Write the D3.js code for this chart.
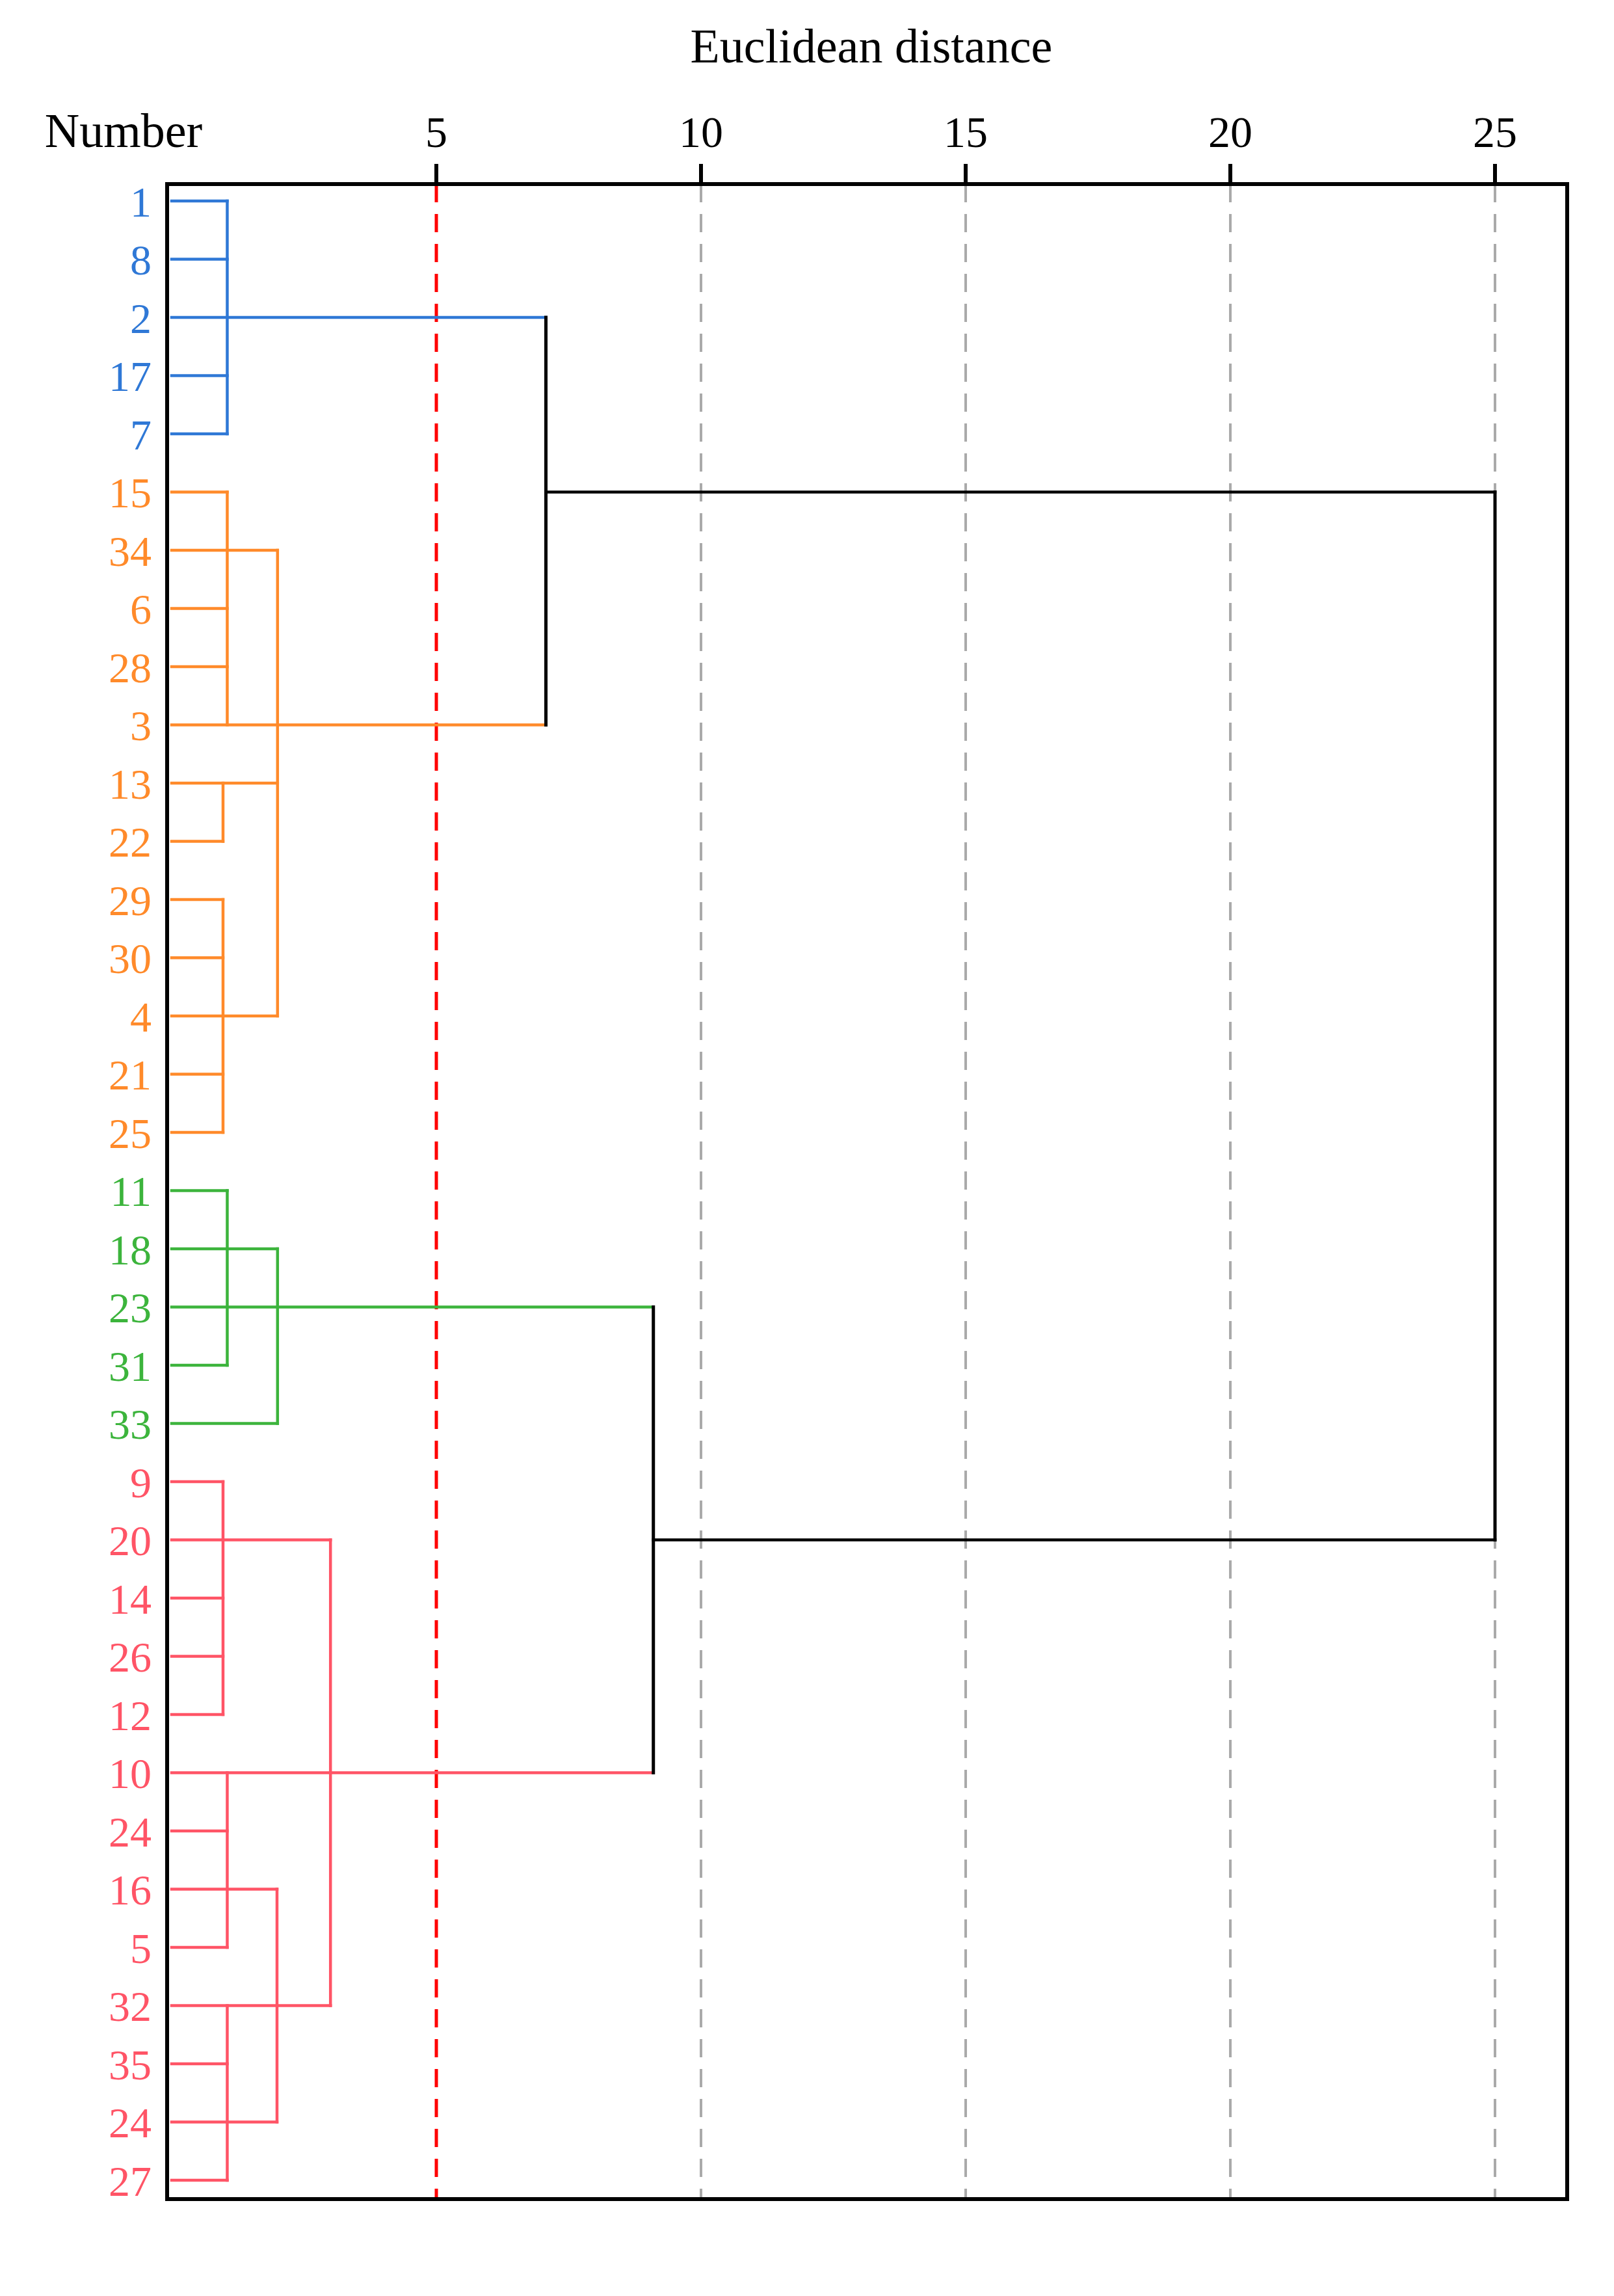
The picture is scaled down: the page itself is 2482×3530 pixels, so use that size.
<!DOCTYPE html>
<html><head><meta charset="utf-8">
<script src="https://cdn.jsdelivr.net/npm/d3@7"></script>
<style>body{margin:0;background:#fff}</style>
</head><body><div id="chart"></div>
<script>
const W = 2482, H = 3530;
const plotLeft = 257, plotRight = 2410, plotTop = 283, plotBottom = 3381;

// leaf labels top to bottom, with their cluster
const leaves = ["1","8","2","17","7","15","34","6","28","3","13","22","29","30","4","21","25",
  "11","18","23","31","33","9","20","14","26","12","10","24","16","5","32","35","24","27"];
const leafGroup = [0,0,0,0,0, 1,1,1,1,1,1,1,1,1,1,1,1, 2,2,2,2,2, 3,3,3,3,3,3,3,3,3,3,3,3,3];
const colors = ["#2f78d6", "#ff8a2a", "#3cb43c", "#ff5466", "#000"];
const ticks = [5, 10, 15, 20, 25];
const cutoff = 5;

// horizontal links: [row, from distance, to distance, colour group]
const hLinks = [
  [0,0,1.05,0],[1,0,1.05,0],[2,0,7.07,0],[3,0,1.05,0],[4,0,1.05,0],
  [5,0,1.05,1],[6,0,2.0,1],[7,0,1.05,1],[8,0,1.05,1],[9,0,7.07,1],
  [10,0,2.0,1],[11,0,0.97,1],[12,0,0.97,1],[13,0,0.97,1],[14,0,2.0,1],[15,0,0.97,1],[16,0,0.97,1],
  [17,0,1.05,2],[18,0,2.0,2],[19,0,9.1,2],[20,0,1.05,2],[21,0,2.0,2],
  [22,0,0.97,3],[23,0,3.0,3],[24,0,0.97,3],[25,0,0.97,3],[26,0,0.97,3],
  [27,0,9.1,3],[28,0,1.05,3],[29,0,1.99,3],[30,0,1.05,3],
  [31,0,3.0,3],[32,0,1.05,3],[33,0,1.99,3],[34,0,1.05,3],
  [5,7.07,25,4],[23,9.1,25,4]
];
// vertical links: [distance, from row, to row, colour group]
const vLinks = [
  [1.05,0,4,0],
  [1.05,5,9,1],[0.97,10,11,1],[0.97,12,16,1],[2.0,6,14,1],
  [1.05,17,20,2],[2.0,18,21,2],
  [0.97,22,26,3],[1.05,27,30,3],[1.05,31,34,3],[1.99,29,33,3],[3.0,23,31,3],
  [7.07,2,9,4],[25,5,23,4],[9.1,19,27,4]
];

const x = d3.scaleLinear().domain([0, 25]).range([264, 2299]);
const y = d3.scalePoint().domain(d3.range(leaves.length)).range([309, 3352]);

const svg = d3.select("#chart").append("svg").attr("width", W).attr("height", H)
  .style("font-family", "'Liberation Serif', serif");

// grid
svg.selectAll(".grid").data(ticks).enter().append("line")
  .attr("x1", d => x(d)).attr("x2", d => x(d))
  .attr("y1", plotTop).attr("y2", plotBottom)
  .attr("stroke", d => d === cutoff ? "#ff0000" : "#aaaaaa")
  .attr("stroke-width", d => d === cutoff ? 5 : 4)
  .attr("stroke-dasharray", "28,18");

// tick marks and labels
svg.selectAll(".tk").data(ticks).enter().append("line")
  .attr("x1", d => x(d)).attr("x2", d => x(d))
  .attr("y1", plotTop - 31).attr("y2", plotTop)
  .attr("stroke", "#000").attr("stroke-width", 6);
svg.selectAll(".tl").data(ticks).enter().append("text")
  .attr("x", d => x(d)).attr("y", 226)
  .attr("text-anchor", "middle").attr("font-size", 68).text(d => d);

svg.append("text").attr("x", 190).attr("y", 226).attr("text-anchor", "middle")
  .attr("font-size", 74).text("Number");
svg.append("text").attr("x", 1340).attr("y", 96).attr("text-anchor", "middle")
  .attr("font-size", 74).text("Euclidean distance");

// links
svg.selectAll(".h").data(hLinks).enter().append("line")
  .attr("x1", d => x(d[1])).attr("x2", d => x(d[2]))
  .attr("y1", d => y(d[0])).attr("y2", d => y(d[0]))
  .attr("stroke", d => colors[d[3]]).attr("stroke-width", 4.5).attr("stroke-linecap", "square");
svg.selectAll(".v").data(vLinks).enter().append("line")
  .attr("x1", d => x(d[0])).attr("x2", d => x(d[0]))
  .attr("y1", d => y(d[1])).attr("y2", d => y(d[2]))
  .attr("stroke", d => colors[d[3]]).attr("stroke-width", d => d[3] === 4 ? 5 : 4.5)
  .attr("stroke-linecap", "square");

// leaf labels
svg.selectAll(".leaf").data(leaves).enter().append("text")
  .attr("x", 233).attr("y", (d, i) => y(i)).attr("dy", "0.36em")
  .attr("text-anchor", "end").attr("font-size", 66)
  .attr("fill", (d, i) => colors[leafGroup[i]]).text(d => d);

// frame
svg.append("rect").attr("x", plotLeft).attr("y", plotTop)
  .attr("width", plotRight - plotLeft).attr("height", plotBottom - plotTop)
  .attr("fill", "none").attr("stroke", "#000").attr("stroke-width", 6);
</script></body></html>
